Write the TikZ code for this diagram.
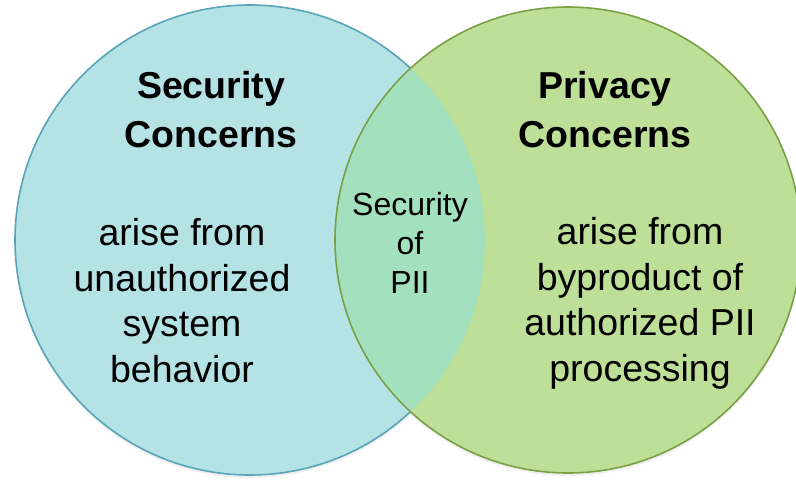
\documentclass[tikz,border=0pt]{standalone}
\usepackage{fontspec}
\setmainfont{Liberation Sans}
\definecolor{secfill}{RGB}{181,227,229}
\definecolor{secline}{RGB}{88,164,184}
\definecolor{privfill}{RGB}{189,223,152}
\definecolor{privline}{RGB}{122,160,70}
\definecolor{piifill}{RGB}{163,224,190}

\begin{document}
\begin{tikzpicture}[x=1pt,y=-1pt,
    head/.style={font=\fontsize{37.5}{49}\selectfont\bfseries, align=center, anchor=base, inner sep=0pt},
    body/.style={font=\fontsize{37.5}{45.5}\selectfont, align=center, anchor=base, inner sep=0pt},
    small/.style={font=\fontsize{32}{39}\selectfont, align=center, anchor=base, inner sep=0pt}]
      \useasboundingbox (0,0) rectangle (796,480);
      \coordinate (sec) at (250,240);
      \coordinate (priv) at (568,240);
      % shadows
      \fill[black,opacity=0.06] ([yshift=-3pt]sec) circle (235pt);
      \fill[black,opacity=0.06] ([yshift=-3pt]priv) circle (233pt);
      % circles
      \filldraw[fill=secfill, draw=secline, line width=1.6pt] (sec) circle (235pt);
      \fill[privfill] (priv) circle (233pt);
      \begin{scope}
        \clip (sec) circle (235pt);
        \fill[piifill] (priv) circle (233pt);
      \end{scope}
      \draw[privline, line width=1.6pt] (priv) circle (233pt);
      % texts (base = last line)
      \node[head] (sechead) at (211,147) {Security\\Concerns};
      \node[body] (secbody) at (182,382) {arise from\\unauthorized\\system\\behavior};
      \node[head] (privhead) at (605,147) {Privacy\\Concerns};
      \node[body] (privbody) at (640,381) {arise from\\byproduct of\\authorized PII\\processing};
      \node[small] (pii) at (410,293) {Security\\of\\PII};
    \end{tikzpicture}
\end{document}
